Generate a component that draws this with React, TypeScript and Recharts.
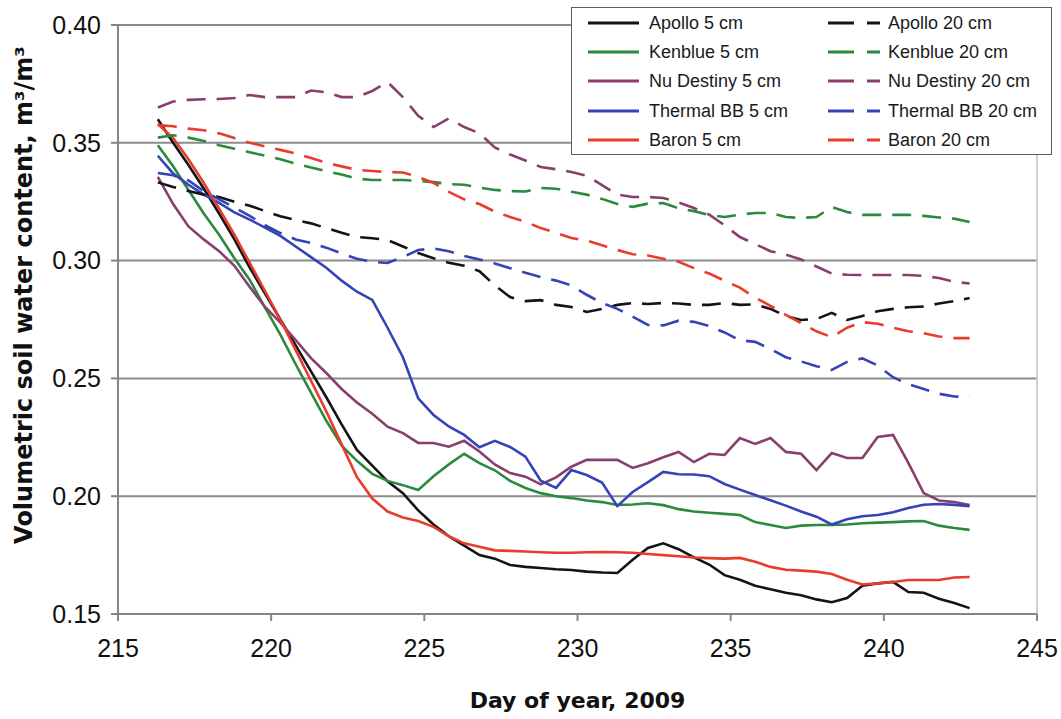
import React from "react";
import {
  LineChart,
  Line,
  XAxis,
  YAxis,
  CartesianGrid,
  ReferenceLine,
  Legend,
  Label,
} from "recharts";

// day of year, every half day
const days = [
  216.3, 216.8, 217.3, 217.8, 218.3, 218.8, 219.3, 219.8, 220.3, 220.8,
  221.3, 221.8, 222.3, 222.8, 223.3, 223.8, 224.3, 224.8, 225.3, 225.8,
  226.3, 226.8, 227.3, 227.8, 228.3, 228.8, 229.3, 229.8, 230.3, 230.8,
  231.3, 231.8, 232.3, 232.8, 233.3, 233.8, 234.3, 234.8, 235.3, 235.8,
  236.3, 236.8, 237.3, 237.8, 238.3, 238.8, 239.3, 239.8, 240.3, 240.8,
  241.3, 241.8, 242.3, 242.8,
];

const apollo5 = [
  0.36, 0.35, 0.3406, 0.3306, 0.32, 0.309, 0.297, 0.286, 0.275, 0.264,
  0.253, 0.242, 0.2305, 0.2196, 0.213, 0.2063, 0.2013, 0.194, 0.188, 0.183,
  0.179, 0.175, 0.1735, 0.1708, 0.17, 0.1695, 0.169, 0.1687, 0.168, 0.1676,
  0.1674, 0.173, 0.178, 0.18, 0.1775, 0.174, 0.171, 0.1665, 0.1645, 0.162,
  0.1605, 0.159, 0.158, 0.1562, 0.155, 0.1568, 0.162, 0.163, 0.1636, 0.1593,
  0.159, 0.1565, 0.1547, 0.1525,
];
const kenblue5 = [
  0.349, 0.34, 0.33, 0.32, 0.311, 0.301, 0.2918, 0.28, 0.2686, 0.256,
  0.244, 0.232, 0.2215, 0.215, 0.2095, 0.2065, 0.2047, 0.2026, 0.2085, 0.2135,
  0.218, 0.214, 0.211, 0.2065, 0.2035, 0.2013, 0.2, 0.1992, 0.1982, 0.1975,
  0.1963, 0.1965, 0.197, 0.1962, 0.1945, 0.1935, 0.193, 0.1925, 0.192, 0.189,
  0.1878, 0.1865, 0.1875, 0.1878, 0.1878, 0.188, 0.1885, 0.1888, 0.189, 0.1893,
  0.1895, 0.1875, 0.1865, 0.1857,
];
const nuDestiny5 = [
  0.3355, 0.324, 0.3145, 0.309, 0.304, 0.2978, 0.2888, 0.2803, 0.2737, 0.2663,
  0.2586, 0.2523, 0.2455, 0.2398, 0.235, 0.2295, 0.2268, 0.2226, 0.2226, 0.221,
  0.2235, 0.219, 0.2135, 0.2098, 0.2083, 0.205, 0.208, 0.2125, 0.2154, 0.2154,
  0.2154, 0.212, 0.214, 0.2165, 0.2188, 0.2145, 0.218, 0.2175, 0.2247, 0.2222,
  0.2247, 0.2188, 0.218, 0.2111, 0.2183, 0.2162, 0.2162, 0.2251, 0.226, 0.2141,
  0.2013, 0.1982, 0.1975, 0.1963,
];
const thermal5 = [
  0.3445, 0.337, 0.3322, 0.328, 0.3245, 0.3205, 0.3174, 0.314, 0.3105, 0.306,
  0.3015, 0.297, 0.2915, 0.2868, 0.2833, 0.2715, 0.259, 0.2415, 0.2345, 0.2296,
  0.226, 0.2208, 0.2235, 0.2209, 0.2168, 0.2066, 0.2035, 0.2111, 0.209, 0.2058,
  0.1958, 0.2018, 0.206, 0.2103, 0.2093, 0.2092, 0.2085, 0.2052, 0.2028, 0.2005,
  0.1983, 0.196, 0.1935, 0.1913, 0.188, 0.1902, 0.1915, 0.192, 0.1932, 0.195,
  0.1964, 0.1967, 0.1963, 0.1958,
];
const baron5 = [
  0.358, 0.352, 0.343, 0.333, 0.322, 0.311, 0.299, 0.287, 0.275, 0.262,
  0.249, 0.236, 0.222, 0.2081, 0.199, 0.1935, 0.191, 0.1895, 0.187, 0.183,
  0.18, 0.1785, 0.177, 0.1768, 0.1765, 0.1762, 0.176, 0.176, 0.1762, 0.1763,
  0.1762, 0.176, 0.1755, 0.175, 0.1745, 0.174, 0.1737, 0.1735, 0.1738, 0.1722,
  0.17, 0.1688, 0.1684, 0.168, 0.167, 0.1645, 0.1625, 0.163, 0.1636, 0.1644,
  0.1644, 0.1644, 0.1655, 0.1657,
];
const apollo20 = [
  0.3332, 0.3312, 0.3295, 0.328, 0.327, 0.325, 0.3233, 0.321, 0.3188, 0.3172,
  0.3158, 0.3138, 0.3118, 0.31, 0.3095, 0.3087, 0.306, 0.3032, 0.301, 0.2991,
  0.2978, 0.2955, 0.2895, 0.2845, 0.2828, 0.2832, 0.2812, 0.2803, 0.2782, 0.2795,
  0.2812, 0.282, 0.2816, 0.282, 0.2818, 0.2812, 0.2812, 0.282, 0.2812, 0.2814,
  0.2795, 0.2765, 0.2748, 0.2752, 0.2778, 0.2748, 0.2765, 0.2785, 0.2795, 0.2802,
  0.2805, 0.2818, 0.2828, 0.2841,
];
const kenblue20 = [
  0.3522, 0.3532, 0.3522, 0.3508, 0.349, 0.3475, 0.346, 0.3445, 0.343, 0.3412,
  0.3395, 0.338, 0.3365, 0.3348, 0.3342, 0.3342, 0.3342, 0.3338, 0.3333, 0.3325,
  0.3322, 0.331, 0.33, 0.3295, 0.3293, 0.3308, 0.3305, 0.3292, 0.328, 0.3262,
  0.324, 0.3228, 0.3242, 0.3244, 0.3222, 0.321, 0.3194, 0.3185, 0.3195, 0.3202,
  0.3202, 0.3185, 0.3181, 0.3185, 0.3227, 0.3206, 0.3194, 0.3194, 0.3194, 0.3194,
  0.319, 0.3183, 0.3178, 0.3164,
];
const nuDestiny20 = [
  0.365, 0.3675, 0.3682, 0.3685, 0.3686, 0.369, 0.3703, 0.3694, 0.3694, 0.3694,
  0.3722, 0.3714, 0.3694, 0.3694, 0.372, 0.3758, 0.3694, 0.3615, 0.3567, 0.3603,
  0.3567, 0.354, 0.348, 0.345, 0.3425, 0.3397, 0.3388, 0.3376, 0.336, 0.332,
  0.328, 0.327, 0.327, 0.3266, 0.3247, 0.3223, 0.3195, 0.315, 0.31, 0.307,
  0.304, 0.3025, 0.3005, 0.2975, 0.2945, 0.294, 0.2939, 0.2939, 0.2939, 0.2939,
  0.2935, 0.2926, 0.291, 0.2903,
];
const thermal20 = [
  0.3372, 0.3362, 0.334, 0.3295, 0.326, 0.3225, 0.319, 0.315, 0.3117, 0.309,
  0.3075, 0.3055, 0.303, 0.3008, 0.2995, 0.299, 0.3015, 0.3045, 0.3052, 0.304,
  0.302, 0.3005, 0.2988, 0.2968, 0.2948, 0.293, 0.2915, 0.2895, 0.2855, 0.282,
  0.2795, 0.2762, 0.2727, 0.2725, 0.2745, 0.274, 0.2722, 0.2695, 0.2662, 0.2655,
  0.2625, 0.259, 0.2572, 0.2552, 0.2536, 0.257, 0.2585, 0.2555, 0.2505, 0.2475,
  0.2455, 0.2435, 0.2423, 0.2421,
];
const baron20 = [
  0.3575, 0.357, 0.356, 0.3553, 0.354, 0.352, 0.35, 0.3485, 0.347, 0.3455,
  0.3435, 0.3415, 0.34, 0.3385, 0.338, 0.3376, 0.3374, 0.3355, 0.333, 0.3292,
  0.326, 0.324, 0.3208, 0.3185, 0.3165, 0.3138, 0.3118, 0.3096, 0.3085, 0.3065,
  0.3045, 0.3027, 0.3022, 0.3008, 0.2995, 0.2968, 0.2945, 0.2915, 0.2885, 0.2843,
  0.2808, 0.277, 0.2735, 0.27, 0.2675, 0.2715, 0.2739, 0.2732, 0.2715, 0.27,
  0.2692, 0.2678, 0.2671, 0.2671,
];

const xTicks = [215, 220, 225, 230, 235, 240, 245];
const yTicks = [0.15, 0.2, 0.25, 0.3, 0.35, 0.4];

const BLACK = "#141414";
const GREEN = "#2b8a3e";
const PURPLE = "#8a3e6c";
const BLUE = "#3443b6";
const RED = "#e83c2c";

const series = [
  { key: "apollo5", name: "Apollo 5 cm", color: BLACK, dashed: false, values: apollo5 },
  { key: "kenblue5", name: "Kenblue 5 cm", color: GREEN, dashed: false, values: kenblue5 },
  { key: "nuDestiny5", name: "Nu Destiny 5 cm", color: PURPLE, dashed: false, values: nuDestiny5 },
  { key: "thermal5", name: "Thermal BB 5 cm", color: BLUE, dashed: false, values: thermal5 },
  { key: "baron5", name: "Baron 5 cm", color: RED, dashed: false, values: baron5 },
  { key: "apollo20", name: "Apollo 20 cm", color: BLACK, dashed: true, values: apollo20 },
  { key: "kenblue20", name: "Kenblue 20 cm", color: GREEN, dashed: true, values: kenblue20 },
  { key: "nuDestiny20", name: "Nu Destiny 20 cm", color: PURPLE, dashed: true, values: nuDestiny20 },
  { key: "thermal20", name: "Thermal BB 20 cm", color: BLUE, dashed: true, values: thermal20 },
  { key: "baron20", name: "Baron 20 cm", color: RED, dashed: true, values: baron20 },
];

const data = days.map((day, i) => {
  const row: Record<string, number> = { day };
  series.forEach((s) => {
    row[s.key] = s.values[i];
  });
  return row;
});

const FONT = '"Liberation Sans", Arial, Helvetica, sans-serif';
const TITLE_FONT = '"DejaVu Sans", "Liberation Sans", Arial, sans-serif';

function LegendBox() {
  const rowY = [15, 44, 73, 103, 132];
  return (
    <div
      style={{
        width: 481,
        height: 148,
        boxSizing: "border-box",
        border: "1.5px solid #5e5e5e",
        background: "#fff",
        position: "relative",
        fontFamily: FONT,
        fontSize: 18,
        color: "#1a1a1a",
      }}
    >
      {series.map((s, i) => {
        const col = s.dashed ? 1 : 0;
        const row = i % 5;
        const lineX = col === 0 ? 16 : 256;
        const textX = col === 0 ? 77 : 316;
        return (
          <React.Fragment key={s.key}>
            <svg
              width={54}
              height={6}
              style={{ position: "absolute", left: lineX, top: rowY[row] - 3 }}
            >
              {s.dashed ? (
                <>
                  <line x1={0} y1={3} x2={26} y2={3} stroke={s.color} strokeWidth={3} />
                  <line x1={39} y1={3} x2={52} y2={3} stroke={s.color} strokeWidth={3} />
                </>
              ) : (
                <line x1={0} y1={3} x2={51} y2={3} stroke={s.color} strokeWidth={3} />
              )}
            </svg>
            <div
              style={{
                position: "absolute",
                left: textX,
                top: rowY[row] - 11,
                height: 22,
                lineHeight: "22px",
                whiteSpace: "nowrap",
              }}
            >
              {s.name}
            </div>
          </React.Fragment>
        );
      })}
    </div>
  );
}

export default function App() {
  return (
    <div style={{ position: "absolute", left: 0, top: 0, background: "#fff" }}>
      <LineChart
        width={1061}
        height={719}
        data={data}
        margin={{ top: 25, right: 24, left: 0, bottom: 0 }}
      >
        <CartesianGrid vertical={false} stroke="#8c8c8c" strokeWidth={2} />
        <ReferenceLine x={245} stroke="#cfcfcf" strokeWidth={2} />
        <XAxis
          dataKey="day"
          type="number"
          domain={[215, 245]}
          ticks={xTicks}
          height={105}
          stroke="#858585"
          strokeWidth={2}
          tickSize={7}
          tickMargin={18}
          tick={{ fontSize: 25, fill: "#111", fontFamily: FONT }}
        >
          <Label
            content={({ viewBox }: any) => (
              <text
                x={viewBox.x + viewBox.width / 2}
                y={708}
                textAnchor="middle"
                fontFamily={TITLE_FONT}
                fontWeight="bold"
                fontSize={22}
                fill="#111"
              >
                Day of year, 2009
              </text>
            )}
          />
        </XAxis>
        <YAxis
          type="number"
          domain={[0.15, 0.4]}
          ticks={yTicks}
          width={118}
          stroke="#858585"
          strokeWidth={2}
          tickSize={7}
          tickMargin={10}
          tickFormatter={(v: number) => v.toFixed(2)}
          tick={{ fontSize: 25, fill: "#111", fontFamily: FONT }}
        >
          <Label
            content={() => (
              <text
                x={32}
                y={295}
                transform="rotate(-90 32 295)"
                textAnchor="middle"
                fontFamily={TITLE_FONT}
                fontWeight="bold"
                fontSize={24}
                fill="#111"
              >
                Volumetric soil water content, m³/m³
              </text>
            )}
          />
        </YAxis>
        {series.map((s) => (
          <Line
            key={s.key}
            type="linear"
            dataKey={s.key}
            name={s.name}
            stroke={s.color}
            strokeWidth={2.6}
            strokeDasharray={s.dashed ? "19 11" : undefined}
            dot={false}
            isAnimationActive={false}
          />
        ))}
        <Legend
          layout="vertical"
          verticalAlign="middle"
          align="center"
          content={() => <LegendBox />}
          wrapperStyle={{ top: 7, left: 571, width: 481, height: 148 }}
        />
      </LineChart>
    </div>
  );
}
